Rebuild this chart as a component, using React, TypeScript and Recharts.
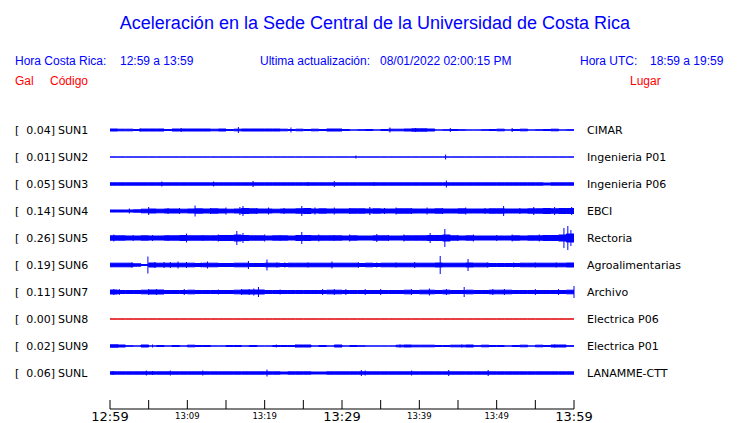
import { ComposedChart, Area, Scatter, ErrorBar, XAxis, YAxis } from 'recharts'

// station rows, top to bottom
const codes = ['SUN1', 'SUN2', 'SUN3', 'SUN4', 'SUN5', 'SUN6', 'SUN7', 'SUN8', 'SUN9', 'SUNL']
const gal = [0.04, 0.01, 0.05, 0.14, 0.26, 0.19, 0.11, 0.0, 0.02, 0.06]
const places = [
  'CIMAR',
  'Ingenieria P01',
  'Ingenieria P06',
  'EBCI',
  'Rectoria',
  'Agroalimentarias',
  'Archivo',
  'Electrica P06',
  'Electrica P01',
  'LANAMME-CTT',
]
const rowCenters = [13, 40, 67, 94, 121, 148, 175, 202, 229, 256]

// minutes since 12:59
const timeTicks = [0, 5, 10, 15, 20, 25, 30, 35, 40, 45, 50, 55, 60]
const timeLabels = ['12:59', '', '13:09', '', '13:19', '', '13:29', '', '13:39', '', '13:49', '', '13:59']
const majorTicks = [0, 30, 60]

// half width of the dense trace band, one value per minute (t = 0..60)
const band1 = [1, 0.8, 0.8, 0.5, 1, 1, 1, 0.5, 1, 1, 1, 1, 1, 0.8, 1, 0.5, 0.8, 1, 1, 1, 1, 1, 0.8, 0.5, 0.8, 0.5, 0.8, 0.5, 1, 1, 0.5, 0, 0.3, 0.5, 0, 0.5, 0.8, 0.8, 1, 1.2, 1.2, 1, 0, 0.3, 0.5, 0.3, 0, 0, 0.3, 0.5, 0.8, 0, 0.5, 0.8, 0, 0.3, 0.5, 0.8, 0, 0.3, 0]
const band2 = [0, 0, 0, 0, 0, 0, 0, 0, 0, 0, 0, 0, 0, 0, 0, 0, 0, 0, 0, 0, 0, 0, 0, 0, 0, 0, 0, 0, 0, 0, 0, 0, 0, 0, 0, 0, 0, 0, 0, 0, 0, 0, 0, 0, 0, 0, 0, 0, 0, 0, 0, 0, 0, 0, 0, 0, 0, 0, 0, 0, 0]
const band3 = [1.2, 1.2, 1.2, 1.2, 1.2, 1.2, 1.2, 1.2, 1.2, 1.2, 1.2, 1.2, 1.2, 1.2, 1.2, 1.2, 1.2, 1.2, 1.2, 1.2, 1.2, 1.2, 1.2, 1.2, 1.2, 1.2, 1.2, 1.2, 1.2, 1.2, 1.2, 1.2, 1.2, 1.2, 1.2, 1.2, 1.2, 1.2, 1.2, 1.2, 1.2, 1.2, 1.2, 1.2, 1.2, 1.2, 1.2, 1.2, 1.2, 1.2, 1.2, 1.2, 1.2, 1.2, 1.2, 1.2, 1, 1.2, 1.2, 1.2, 1.2]
const band4 = [1, 1, 1, 1.2, 1.8, 2, 1.8, 2, 2, 1.8, 2, 2.2, 2, 2.2, 2, 1.8, 2, 2.5, 2.2, 2, 2, 1.8, 2, 2, 2.2, 2.5, 2, 2.2, 2, 2, 2, 2.2, 2.2, 2, 2.2, 2, 2, 2.2, 2.2, 2, 2, 2, 2.2, 2, 2, 2.2, 2, 2, 2, 2.2, 2.2, 2, 2, 2, 2.2, 2.2, 2.5, 2.2, 2.5, 2.5, 2.5]
const band5 = [2.2, 2.2, 2, 2, 2.2, 2, 2, 2.2, 2.2, 2.5, 2.2, 2.2, 2.2, 2.2, 2.5, 2.5, 3, 2.5, 2.2, 2.2, 2, 2.2, 2.2, 2, 2.5, 2.5, 2.2, 2.2, 2.2, 2.2, 2, 2.2, 2, 2, 2.2, 2.2, 2, 2, 2.2, 2.2, 2.2, 2.5, 2.5, 3, 2.2, 2, 2.2, 2, 2, 2, 2, 2, 2.2, 2, 2.2, 2.2, 2.5, 2.5, 3, 4, 4]
const band6 = [1.8, 1.8, 1.8, 1.2, 0.5, 2, 1.8, 1.8, 1.8, 1.8, 1.8, 1.5, 1.8, 1.8, 1.5, 1.5, 1.8, 1.8, 1.5, 1.5, 1.8, 1.8, 1.5, 1.8, 1.8, 1.8, 1.8, 1.8, 1.8, 1.8, 1.8, 1.8, 1.5, 1.8, 1.5, 1.8, 1.8, 1.8, 1.8, 1.8, 1.8, 1.8, 2, 1.8, 1.8, 1.8, 2, 1.8, 1.8, 1.5, 1.5, 1.5, 1.5, 1.8, 1.8, 1.8, 1.8, 1.8, 1.8, 2, 2]
const band7 = [2, 1.5, 1.5, 1.5, 1.8, 2, 2, 1.5, 1.5, 1.5, 1.8, 1.5, 1.5, 1.5, 1.5, 1.5, 1.8, 2, 2, 2, 1.5, 1.5, 1.5, 1.5, 1.5, 1.5, 1.5, 1.5, 1.8, 1.8, 1.5, 1.5, 1.5, 1.5, 1.5, 1.5, 1.5, 1.5, 1.8, 1.5, 1.8, 1.8, 1.5, 1.8, 1.5, 1.5, 1.8, 1.5, 1.5, 1.8, 1.8, 1.8, 1.5, 1.5, 1.5, 1.5, 1.5, 1.5, 1.5, 1.8, 1.8]
const band8 = [0, 0, 0, 0, 0, 0, 0, 0, 0, 0, 0, 0, 0, 0, 0, 0, 0, 0, 0, 0, 0, 0, 0, 0, 0, 0, 0, 0, 0, 0, 0, 0, 0, 0, 0, 0, 0, 0, 0, 0, 0, 0, 0, 0, 0, 0, 0, 0, 0, 0, 0, 0, 0, 0, 0, 0, 0, 0, 0, 0, 0]
const band9 = [1.2, 1, 0.3, 0, 1, 0, 0.5, 0, 0.5, 0, 0.8, 0.5, 0.5, 0, 0, 0.5, 0.5, 0, 0.5, 0, 0, 0.5, 0.5, 0.5, 1, 1, 0, 0.5, 0, 1, 0, 0.5, 0.3, 0, 0, 0, 0, 0.8, 1, 0.8, 0.8, 0.8, 0.5, 0.5, 0.8, 0.8, 1, 0.3, 0.8, 0.5, 0.5, 0, 0.5, 0.8, 0, 0.8, 0.5, 1, 1, 0.3, 0.5]
const bandL = [1.2, 1.2, 1.2, 1.2, 1.2, 1.2, 1.2, 1.2, 1.2, 1.2, 1.2, 1.2, 1.2, 1.2, 1.2, 1.2, 1.2, 1.2, 1.2, 1.2, 1.2, 1.2, 1, 1.2, 1.2, 1.2, 1, 1, 1.2, 1.2, 1.2, 1.2, 1.2, 1.2, 1.2, 1.2, 1.2, 1.2, 1.2, 1.2, 1.2, 1.2, 1.2, 1.2, 1.2, 1.2, 1.2, 1.2, 1.2, 1.2, 1.2, 1.2, 1.2, 1.2, 1.2, 1.2, 1.2, 1.2, 1.2, 1.2, 1.2]

// isolated peaks: [minute, half height]
const spikes1 = [[3.9, 2], [9.2, 2], [16.6, 3], [23.4, 2.5], [36.2, 2.5], [39.5, 2], [44, 2], [52, 2]]
const spikes2 = [[31.8, 1.5], [43.4, 2.5]]
const spikes3 = [[6.7, 2.5], [13.4, 2.5], [18.5, 3], [25.6, 2], [29, 3], [34.1, 2], [43.5, 3.5]]
const spikes4 = [[2.5, 2.5], [5, 4], [7.5, 3], [9, 3], [11, 5.5], [13, 3], [15, 3.5], [16.8, 4], [17.2, 5], [19, 3], [20.5, 3.5], [22.5, 3], [24.8, 5], [26.5, 3.5], [29, 3.5], [31, 3], [33.6, 4], [35.5, 3], [37, 3.5], [39, 3], [41, 3.5], [43, 3], [46, 3.5], [48.5, 3], [50.9, 5], [53, 3], [54.8, 4], [57.5, 4], [59.7, 4]]
const spikes5 = [[0.5, 3.5], [3, 3], [5.5, 3], [7.5, 3], [9.9, 4.5], [12, 3], [14, 3.5], [16.4, 7], [17.2, 5], [20, 3.5], [22, 3], [24.8, 6], [27, 3.5], [29, 3], [31, 3.5], [34.5, 4], [36, 3], [38, 3.5], [41.4, 5], [43.3, 9], [45, 3], [47, 3.5], [50, 3], [52, 3.5], [55.5, 3.5], [58.7, 10], [59.2, 12], [59.6, 8]]
const spikes6 = [[2.8, 2.5], [4.9, 8.5], [5.8, 3], [7, 3], [7.8, 3], [8.8, 3.5], [9.9, 3], [11.8, 2.5], [12.6, 3.5], [15.3, 2], [17.9, 4], [20.3, 5.5], [21.6, 2.5], [22.6, 2.5], [25.6, 2.5], [28.7, 3.5], [32.1, 3], [34.5, 2.5], [37, 2.5], [39.4, 3], [42.7, 9], [46.3, 6], [48.8, 2.5], [52.2, 2.5], [55, 2.5], [57.7, 2.5]]
const spikes7 = [[0.5, 3], [1.2, 3], [5, 3], [6, 3], [9.6, 3], [14, 2.5], [17, 3], [18, 3], [18.6, 3.5], [19.2, 5], [22, 2.5], [27.5, 3], [29, 3], [30.5, 3], [33, 3], [35, 3], [39, 3], [41.3, 3.5], [43.5, 3], [45.8, 5], [49.5, 3], [51, 3], [55, 3], [58, 3], [60, 6]]
const spikes8: number[][] = []
const spikes9 = [[1, 1.5], [5.5, 1.5], [21.5, 1.5], [24, 1.5], [37.5, 1.5], [45.5, 1.5], [57.5, 1.5]]
const spikesL = [[0.4, 2], [4.7, 2.5], [5.5, 2], [7.8, 2.5], [12, 2.5], [20.3, 3.5], [32.5, 3], [33, 2.5], [39, 2.5], [43.8, 3], [48.9, 3]]

const bands = [band1, band2, band3, band4, band5, band6, band7, band8, band9, bandL]
const spikes = [spikes1, spikes2, spikes3, spikes4, spikes5, spikes6, spikes7, spikes8, spikes9, spikesL]
const colors = ['#0000ff', '#0000ff', '#0000ff', '#0000ff', '#0000ff', '#0000ff', '#0000ff', '#e00000', '#0000ff', '#0000ff']

const tableData = band1.map((_, t) => {
  const row: Record<string, unknown> = { t }
  bands.forEach((b, i) => {
    row['s' + i] = [rowCenters[i] - b[t], rowCenters[i] + b[t]]
  })
  return row
})

const BLUE = '#0000ff'
const RED = '#ff0000'

function TimeTick({ x, payload }: any) {
  const label = timeLabels[timeTicks.indexOf(payload.value)]
  if (!label) return <g />
  const big = majorTicks.includes(payload.value)
  return (
    <text
      x={x}
      y={big ? 421 : 418.5}
      textAnchor="middle"
      fontFamily="DejaVu Sans"
      fontSize={big ? 13 : 8.5}
      fill="#000"
    >
      {label}
    </text>
  )
}

function RowTick({ y, payload }: any) {
  const i = rowCenters.indexOf(payload.value)
  if (i < 0) return <g />
  const font = { fontFamily: 'DejaVu Sans', fontSize: 11, fill: '#000' }
  return (
    <g>
      <text x={15} y={y} dy={4} {...font}>[</text>
      <text x={55} y={y} dy={4} textAnchor="end" {...font}>{gal[i].toFixed(2) + ']'}</text>
      <text x={58} y={y} dy={4} {...font}>{codes[i]}</text>
      <text x={587} y={y} dy={4} {...font}>{places[i]}</text>
    </g>
  )
}

export default function App() {
  const head = { fontFamily: 'Liberation Sans, Arial, sans-serif', fontSize: 12 }
  return (
    <div style={{ position: 'absolute', left: 0, top: 0, width: 740, height: 423, background: '#fff' }}>
      <svg width={740} height={423} style={{ position: 'absolute', left: 0, top: 0 }}>
        <text x={375} y={29} textAnchor="middle" fontFamily="Liberation Sans, Arial, sans-serif" fontSize={18} fill={BLUE}>
          Aceleración en la Sede Central de la Universidad de Costa Rica
        </text>
        <text x={15} y={65} {...head} fill={BLUE}>Hora Costa Rica:</text>
        <text x={120} y={65} {...head} fill={BLUE}>12:59 a 13:59</text>
        <text x={260} y={65} {...head} fill={BLUE}>Ultima actualización:</text>
        <text x={380} y={65} {...head} fill={BLUE}>08/01/2022 02:00:15 PM</text>
        <text x={580} y={65} {...head} fill={BLUE}>Hora UTC:</text>
        <text x={650} y={65} {...head} fill={BLUE}>18:59 a 19:59</text>
        <text x={15} y={85} {...head} fill={RED}>Gal</text>
        <text x={50} y={85} {...head} fill={RED}>Código</text>
        <text x={630} y={85} {...head} fill={RED}>Lugar</text>
      </svg>
      <div style={{ position: 'absolute', left: 0, top: 0 }}>
        <ComposedChart width={740} height={423} data={tableData} margin={{ top: 117, right: 166, bottom: 0, left: 10 }}>
          <XAxis
            type="number"
            dataKey="t"
            domain={[0, 60]}
            ticks={timeTicks}
            interval={0}
            tickSize={-9}
            height={14}
            tick={<TimeTick />}
            axisLine={{ stroke: '#000' }}
            tickLine={{ stroke: '#000' }}
            allowDataOverflow
          />
          <YAxis
            type="number"
            domain={[0, 292]}
            reversed
            ticks={rowCenters}
            interval={0}
            width={100}
            tick={<RowTick />}
            axisLine={false}
            tickLine={false}
            allowDataOverflow
          />
          {bands.map((_, i) => (
            <Area
              key={'band' + i}
              dataKey={'s' + i}
              type="stepAfter"
              stroke={colors[i]}
              strokeWidth={1}
              fill={colors[i]}
              fillOpacity={1}
              dot={false}
              activeDot={false}
              isAnimationActive={false}
            />
          ))}
          {spikes.map((list, i) => (
            <Scatter
              key={'spk' + i}
              data={list.map(([t, a]) => ({ t, y: rowCenters[i], e: a }))}
              dataKey="y"
              shape={() => <g />}
              isAnimationActive={false}
            >
              <ErrorBar dataKey="e" direction="y" width={0} stroke={colors[i]} strokeWidth={1} isAnimationActive={false} />
            </Scatter>
          ))}
        </ComposedChart>
      </div>
    </div>
  )
}
